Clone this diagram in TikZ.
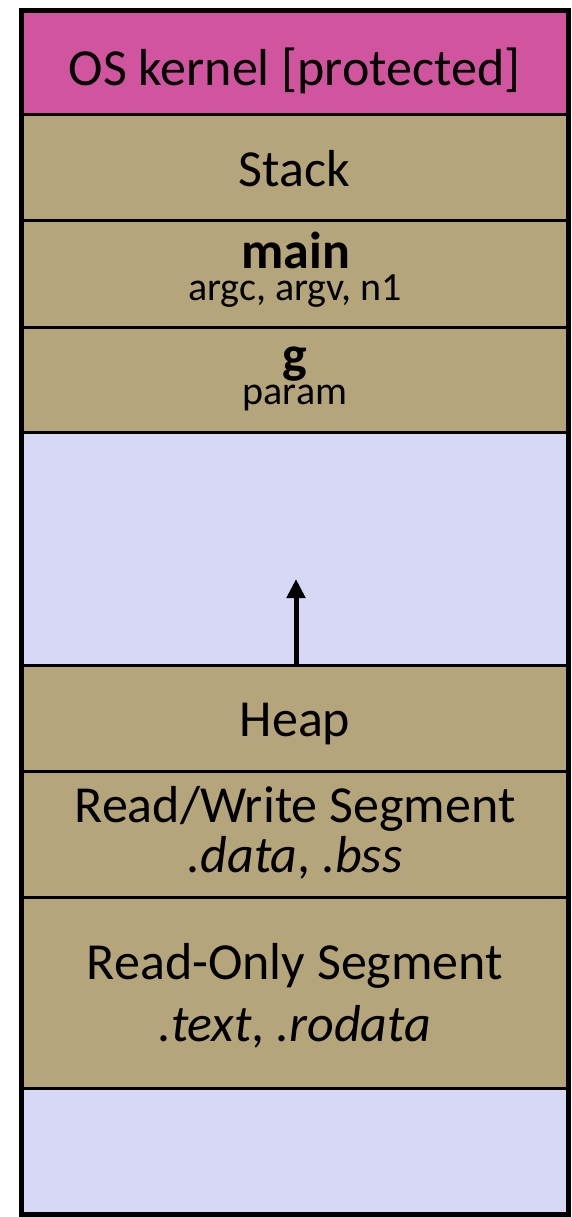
\documentclass[tikz,border=0pt]{standalone}
\usepackage{fontspec}
\setmainfont{Carlito}
\usetikzlibrary{arrows.meta}
\definecolor{kernelpink}{RGB}{209,84,159}
\definecolor{segtan}{RGB}{181,165,122}
\definecolor{freelav}{RGB}{215,216,245}
\begin{document}
\begin{tikzpicture}[x=1pt,y=-1pt,
  seg/.style={draw=black, line width=3pt, minimum width=547pt, inner sep=0pt, outer sep=0pt, rectangle},
  big/.style={font=\fontsize{52}{60}\selectfont, inner sep=0pt, anchor=base},
  bigb/.style={font=\fontsize{52}{60}\selectfont\bfseries, inner sep=0pt, anchor=base, text depth=0pt},
  small/.style={font=\fontsize{40}{48}\selectfont, inner sep=0pt, anchor=base, text height=22pt},
  growarrow/.style={line width=5pt, -{Triangle[width=18pt,length=19pt]}}]
\useasboundingbox (0,0) rectangle (571,1217);
% segments
\node[seg, fill=kernelpink, minimum height=104pt] (kernel) at (294.5,63) {};
\node[seg, fill=segtan, minimum height=105pt] (stack) at (294.5,167.5) {};
\node[seg, fill=segtan, minimum height=107pt] (main) at (294.5,273.5) {};
\node[seg, fill=segtan, minimum height=105pt] (g) at (294.5,379.5) {};
\node[seg, fill=freelav, minimum height=233pt] (free1) at (294.5,548.5) {};
\node[seg, fill=segtan, minimum height=106pt] (heap) at (294.5,718) {};
\node[seg, fill=segtan, minimum height=126pt] (rw) at (294.5,834) {};
\node[seg, fill=segtan, minimum height=191pt] (ro) at (294.5,992.5) {};
\node[seg, fill=freelav, minimum height=126pt] (free2) at (294.5,1151) {};
% outer frame
\draw[line width=5pt] (kernel.north west) rectangle (free2.south east);
% texts
\node[big] (tkernel) at (294.5,86) {OS kernel [protected]};
\node[big] (tstack) at (294.5,186) {Stack};
\node[bigb] (tmain) at (296,268) {main};
\node[small] (tmainv) at (295,300) {argc, argv, n1};
\node[bigb] (tg) at (295,372) {g};
\node[small] (tgv) at (295,404) {param};
\node[big] (theap) at (295,736) {Heap};
\node[big] (trw) at (295,822) {Read/Write Segment};
\node[big] (trwv) at (295,872) {\textit{.data}, \textit{.bss}};
\node[big] (tro) at (295,979) {Read-Only Segment};
\node[big] (trov) at (295,1041) {\textit{.text}, \textit{.rodata}};
% growth arrow
\coordinate (tip) at (296,579);
\draw[growarrow] ([xshift=1.5pt]heap.north) -- (tip);
\end{tikzpicture}
\end{document}
